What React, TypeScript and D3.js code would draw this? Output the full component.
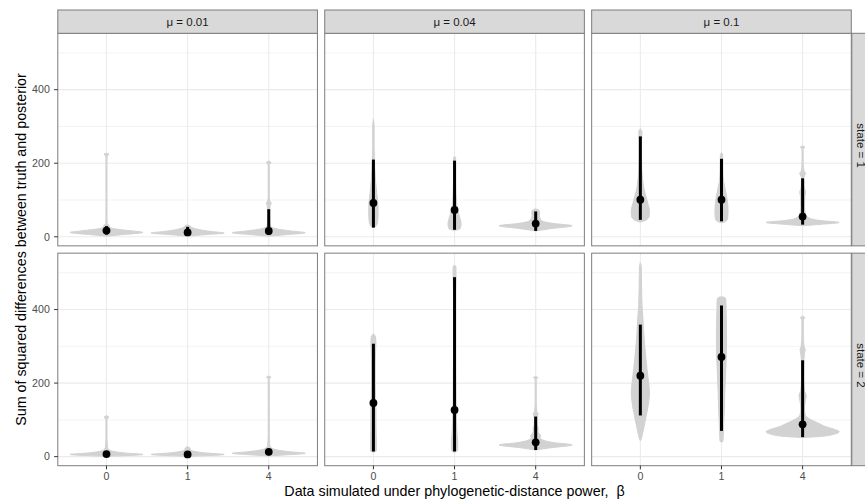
import React from 'react';
import * as d3 from 'd3';

// ---------- categories & labels ----------
const BETA = ['0', '1', '4'];
const MU_LABELS = ['μ = 0.01', 'μ = 0.04', 'μ = 0.1'];
const STATE_LABELS = ['state = 1', 'state = 2'];
const Y_MAJOR = [0, 200, 400];
const Y_MINOR = [100, 300, 500];
const DATA_EXTENT = [1.65, 527];

// ---------- violin density profiles: [value, relative half-width] ----------
// state = 1
const VIOLIN_S1_M001 = [
  [[2, 0.05], [6, 0.45], [12, 1], [16, 0.7], [20, 0.35], [24, 0.12], [28, 0.08], [32, 0.06], [36, 0.02], [50, 0.015], [120, 0.015], [215, 0.015], [222, 0.04], [225, 0.07], [227, 0]],
  [[2, 0.05], [6, 0.5], [10, 1], [15, 0.6], [20, 0.3], [25, 0.12], [29, 0.08], [32, 0]],
  [[2, 0.05], [6, 0.5], [11, 1], [16, 0.6], [20, 0.3], [25, 0.1], [30, 0.05], [40, 0.03], [60, 0.02], [85, 0.04], [91, 0.07], [97, 0.03], [110, 0.015], [195, 0.015], [202, 0.06], [206, 0]],
];
const VIOLIN_S1_M004 = [
  [[25, 0], [30, 0.08], [45, 0.12], [70, 0.13], [95, 0.12], [120, 0.09], [150, 0.06], [180, 0.04], [210, 0.025], [250, 0.02], [300, 0.02], [319, 0]],
  [[18, 0.04], [22, 0.15], [35, 0.18], [50, 0.15], [70, 0.09], [100, 0.05], [150, 0.03], [200, 0.03], [215, 0.03], [219, 0]],
  [[16, 0], [22, 0.4], [30, 1], [36, 0.5], [42, 0.2], [50, 0.12], [58, 0.1], [66, 0.11], [72, 0.09], [76, 0]],
];
const VIOLIN_S1_M01 = [
  [[40, 0], [45, 0.15], [55, 0.24], [70, 0.25], [85, 0.22], [100, 0.18], [115, 0.14], [130, 0.1], [150, 0.07], [180, 0.04], [220, 0.03], [260, 0.03], [285, 0.045], [294, 0]],
  [[38, 0], [42, 0.12], [50, 0.17], [70, 0.18], [90, 0.17], [110, 0.14], [130, 0.1], [150, 0.06], [180, 0.04], [210, 0.035], [225, 0.03], [228, 0]],
  [[30, 0], [34, 0.5], [39, 1], [44, 0.5], [50, 0.2], [60, 0.08], [80, 0.05], [110, 0.06], [121, 0.08], [135, 0.04], [160, 0.03], [168, 0.06], [173, 0.08], [178, 0.04], [200, 0.015], [238, 0.015], [244, 0.06], [247, 0]],
];
// state = 2
const VIOLIN_S2_M001 = [
  [[1, 0], [3, 0.6], [6, 1], [10, 0.5], [14, 0.2], [18, 0.08], [25, 0.03], [50, 0.015], [100, 0.015], [108, 0.06], [111, 0]],
  [[1, 0], [3, 0.6], [6, 1], [10, 0.5], [14, 0.2], [18, 0.08], [24, 0.06], [27, 0]],
  [[2, 0], [5, 0.5], [9, 1], [13, 0.6], [17, 0.3], [22, 0.1], [30, 0.03], [60, 0.015], [150, 0.015], [212, 0.015], [216, 0.06], [219, 0]],
];
const VIOLIN_S2_M004 = [
  [[12, 0], [16, 0.08], [40, 0.08], [80, 0.07], [120, 0.07], [160, 0.06], [200, 0.05], [250, 0.05], [290, 0.06], [310, 0.07], [325, 0.06], [334, 0]],
  [[12, 0], [16, 0.08], [30, 0.09], [60, 0.07], [100, 0.05], [150, 0.04], [250, 0.03], [350, 0.03], [450, 0.03], [500, 0.04], [515, 0.04], [521, 0]],
  [[18, 0], [24, 0.4], [32, 1], [38, 0.5], [45, 0.2], [52, 0.12], [56, 0.14], [62, 0.1], [70, 0.06], [77, 0.07], [85, 0.04], [100, 0.03], [115, 0.06], [118, 0.07], [122, 0.03], [150, 0.015], [210, 0.015], [215, 0.06], [218, 0]],
];
const VIOLIN_S2_M01 = [
  [[43, 0], [50, 0.03], [60, 0.055], [86, 0.11], [120, 0.18], [150, 0.23], [173, 0.25], [215, 0.21], [240, 0.18], [269, 0.15], [313, 0.11], [340, 0.09], [378, 0.07], [413, 0.045], [450, 0.035], [487, 0.03], [515, 0.025], [527, 0]],
  [[39, 0], [42, 0.04], [60, 0.05], [90, 0.06], [130, 0.08], [173, 0.09], [220, 0.11], [270, 0.13], [310, 0.14], [360, 0.135], [400, 0.125], [425, 0.12], [432, 0.1], [435, 0]],
  [[52, 0], [55, 0.5], [62, 0.9], [68, 1], [75, 0.85], [82, 0.62], [90, 0.45], [95, 0.34], [105, 0.15], [114, 0.07], [130, 0.05], [150, 0.07], [166, 0.1], [180, 0.05], [210, 0.03], [250, 0.03], [280, 0.05], [291, 0.07], [300, 0.04], [330, 0.02], [372, 0.02], [378, 0.06], [382, 0]],
];

// ---------- point estimates & intervals ----------
const POINT_S1_M001 = [17, 12, 16];
const POINT_S1_M004 = [92, 73, 36];
const POINT_S1_M01 = [101, 101, 55];
const POINT_S2_M001 = [7, 6, 13];
const POINT_S2_M004 = [146, 127, 39];
const POINT_S2_M01 = [220, 271, 88];

const INTERVAL_S1_M001 = [[6, 29], [6, 27], [5, 75]];
const INTERVAL_S1_M004 = [[25, 210], [19, 207], [16, 69]];
const INTERVAL_S1_M01 = [[46, 273], [42, 212], [33, 159]];
const INTERVAL_S2_M001 = [[3, 13], [3, 12], [4, 20]];
const INTERVAL_S2_M004 = [[14, 307], [14, 488], [18, 109]];
const INTERVAL_S2_M01 = [[112, 359], [70, 411], [53, 262]];

const PANELS = [
  { row: 0, col: 0, violins: VIOLIN_S1_M001, points: POINT_S1_M001, intervals: INTERVAL_S1_M001 },
  { row: 0, col: 1, violins: VIOLIN_S1_M004, points: POINT_S1_M004, intervals: INTERVAL_S1_M004 },
  { row: 0, col: 2, violins: VIOLIN_S1_M01, points: POINT_S1_M01, intervals: INTERVAL_S1_M01 },
  { row: 1, col: 0, violins: VIOLIN_S2_M001, points: POINT_S2_M001, intervals: INTERVAL_S2_M001 },
  { row: 1, col: 1, violins: VIOLIN_S2_M004, points: POINT_S2_M004, intervals: INTERVAL_S2_M004 },
  { row: 1, col: 2, violins: VIOLIN_S2_M01, points: POINT_S2_M01, intervals: INTERVAL_S2_M01 },
];

// ---------- layout ----------
const W = 865;
const H = 502;
const LEFT = 57.8;
const RIGHT = 851.3;
const STRIP_TOP = 10;
const STRIP_H = 23.3;
const TOP = STRIP_TOP + STRIP_H;
const BOTTOM = 465.7;
const GAP = 7.3;
const PW = (RIGHT - LEFT - 2 * GAP) / 3;
const PH = (BOTTOM - TOP - GAP) / 2;

const FONT = '"Liberation Sans", Arial, Helvetica, sans-serif';
const BORDER = '#7d7d7d';
const GRID = '#ebebeb';
const VIOLIN_FILL = '#d2d2d2';
const TICK_FS = 10.6;
const STRIP_FS = 11.5;
const TITLE_FS = 14.3;

export default function App() {
  const span = DATA_EXTENT[1] - DATA_EXTENT[0];
  const yDomain = [DATA_EXTENT[0] - 0.05 * span, DATA_EXTENT[1] + 0.05 * span];

  const panelX = (c: number) => LEFT + c * (PW + GAP);
  const panelY = (r: number) => TOP + r * (PH + GAP);

  const panels = PANELS.map((p, i) => {
    const x0 = panelX(p.col);
    const y0 = panelY(p.row);
    const x = d3.scalePoint<string>().domain(BETA).range([x0, x0 + PW]).padding(0.6);
    const y = d3.scaleLinear().domain(yDomain).range([y0 + PH, y0]);
    const maxHalf = 0.45 * x.step();
    return (
      <g key={i}>
        <rect x={x0} y={y0} width={PW} height={PH} fill="#ffffff" />
        {Y_MINOR.filter((v) => y(v) > y0).map((v) => (
          <line key={'mn' + v} x1={x0} x2={x0 + PW} y1={y(v)} y2={y(v)} stroke={GRID} strokeWidth={0.6} />
        ))}
        {Y_MAJOR.map((v) => (
          <line key={'mj' + v} x1={x0} x2={x0 + PW} y1={y(v)} y2={y(v)} stroke={GRID} strokeWidth={1.1} />
        ))}
        {BETA.map((b) => (
          <line key={'vx' + b} x1={x(b)!} x2={x(b)!} y1={y0} y2={y0 + PH} stroke={GRID} strokeWidth={1.1} />
        ))}
        {p.violins.map((prof, j) => {
          const cx = x(BETA[j])!;
          const area = d3
            .area<number[]>()
            .y((d) => y(d[0]))
            .x0((d) => cx - d[1] * maxHalf)
            .x1((d) => cx + d[1] * maxHalf)
            .curve(d3.curveMonotoneY);
          return (
            <path key={'v' + j} d={area(prof as number[][]) || ''} fill={VIOLIN_FILL} stroke={VIOLIN_FILL} strokeWidth={1} strokeLinejoin="round" />
          );
        })}
        {p.intervals.map((iv, j) => (
          <line key={'i' + j} x1={x(BETA[j])!} x2={x(BETA[j])!} y1={y(iv[0])} y2={y(iv[1])} stroke="#000" strokeWidth={3} />
        ))}
        {p.points.map((v, j) => (
          <circle key={'p' + j} cx={x(BETA[j])!} cy={y(v)} r={3.9} fill="#000" />
        ))}
        <rect x={x0} y={y0} width={PW} height={PH} fill="none" stroke={BORDER} strokeWidth={1} />
        {p.col === 0 &&
          Y_MAJOR.map((v) => (
            <g key={'yt' + v}>
              <line x1={x0 - 3.7} x2={x0} y1={y(v)} y2={y(v)} stroke="#333" strokeWidth={1} />
              <text x={x0 - 8} y={y(v)} dy="0.36em" textAnchor="end" fontSize={TICK_FS} fill="#4d4d4d" fontFamily={FONT}>
                {v}
              </text>
            </g>
          ))}
        {p.row === 1 &&
          BETA.map((b) => (
            <g key={'xt' + b}>
              <line x1={x(b)!} x2={x(b)!} y1={y0 + PH} y2={y0 + PH + 3.7} stroke="#333" strokeWidth={1} />
              <text x={x(b)!} y={y0 + PH + 14.4} textAnchor="middle" fontSize={TICK_FS} fill="#4d4d4d" fontFamily={FONT}>
                {b}
              </text>
            </g>
          ))}
      </g>
    );
  });

  return (
    <svg width={W} height={H} style={{ position: 'absolute', left: 0, top: 0, background: '#fff' }}>
      <rect x={0} y={0} width={W} height={H} fill="#ffffff" />
      {panels}
      {MU_LABELS.map((m, c) => (
        <g key={'s' + c}>
          <rect x={panelX(c)} y={STRIP_TOP} width={PW} height={STRIP_H} fill="#d9d9d9" stroke={BORDER} strokeWidth={1} />
          <text x={panelX(c) + PW / 2} y={STRIP_TOP + STRIP_H / 2} dy="0.36em" textAnchor="middle" fontSize={STRIP_FS} fill="#1a1a1a" fontFamily={FONT}>
            {m}
          </text>
        </g>
      ))}
      {STATE_LABELS.map((s, r) => {
        const cy = panelY(r) + PH / 2 + 6;
        const sx = RIGHT + 0.5;
        return (
          <g key={'rs' + r}>
            <rect x={sx} y={panelY(r)} width={STRIP_H} height={PH} fill="#d9d9d9" stroke={BORDER} strokeWidth={1} />
            <text
              transform={`translate(${857.3},${cy}) rotate(90)`}
              textAnchor="middle"
              fontSize={STRIP_FS}
              fill="#1a1a1a"
              fontFamily={FONT}
            >
              {s}
            </text>
          </g>
        );
      })}
      <text
        x={(LEFT + RIGHT) / 2}
        y={495.7}
        textAnchor="middle"
        fontSize={TITLE_FS}
        fill="#000"
        fontFamily={FONT}
        style={{ whiteSpace: 'pre' }}
      >
        {'Data simulated under phylogenetic-distance power,  β'}
      </text>
      <text
        transform={`translate(26,${(TOP + BOTTOM) / 2}) rotate(-90)`}
        textAnchor="middle"
        fontSize={TITLE_FS}
        fill="#000"
        fontFamily={FONT}
      >
        Sum of squared differences between truth and posterior
      </text>
    </svg>
  );
}
